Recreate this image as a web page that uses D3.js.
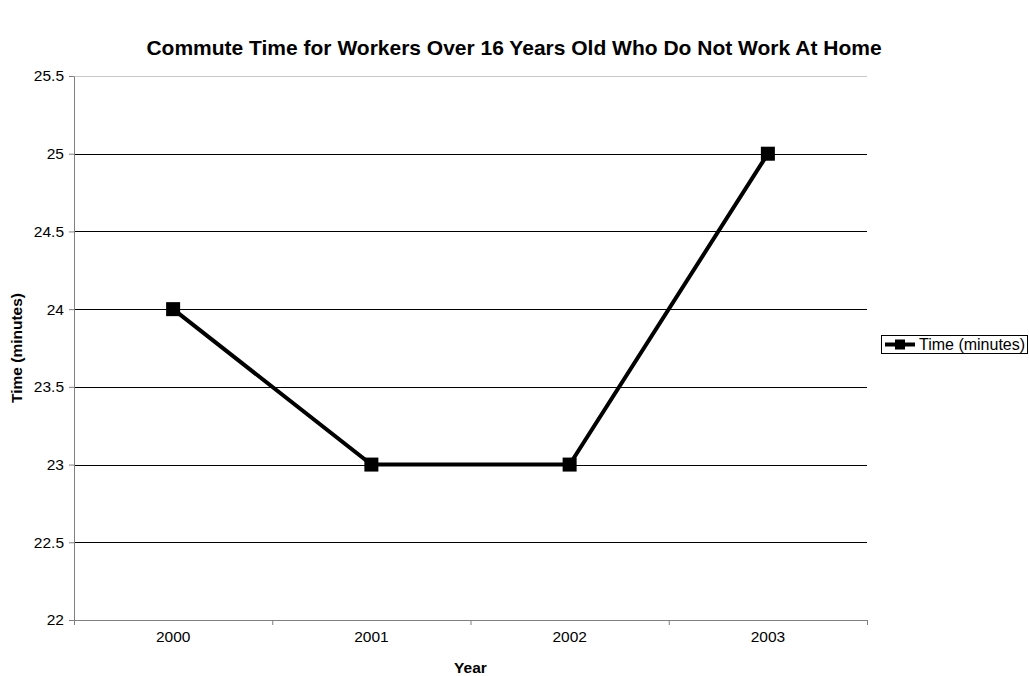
<!DOCTYPE html>
<html>
<head>
<meta charset="utf-8">
<script src="https://cdn.jsdelivr.net/npm/d3@7"></script>
<style>
  body { margin: 0; background: #fff; }
  text { font-family: "Liberation Sans", Arial, sans-serif; }
</style>
</head>
<body>
<div id="chart"></div>
<script>
const years = ['2000', '2001', '2002', '2003'];
const times = [24, 23, 23, 25];
const yTicks = [22, 22.5, 23, 23.5, 24, 24.5, 25, 25.5];
const seriesName = 'Time (minutes)';

const W = 1029, H = 676;
const margin = { top: 76, right: 162, bottom: 56, left: 74 };
const width = W - margin.left - margin.right;
const height = H - margin.top - margin.bottom;
const fontSize = '15.5px';

const svg = d3.select('#chart').append('svg')
  .attr('width', W)
  .attr('height', H);

// title
svg.append('text')
  .attr('x', 514)
  .attr('y', 55)
  .attr('text-anchor', 'middle')
  .style('font-size', '21px')
  .style('font-weight', 'bold')
  .text('Commute Time for Workers Over 16 Years Old Who Do Not Work At Home');

const g = svg.append('g')
  .attr('transform', `translate(${margin.left},${margin.top})`);

const x = d3.scaleBand()
  .domain(years)
  .range([0, width]);

const y = d3.scaleLinear()
  .domain([22, 25.5])
  .range([height, 0]);

// gridlines
g.selectAll('line.grid')
  .data(yTicks.slice(1))
  .enter().append('line')
  .attr('class', 'grid')
  .attr('x1', 0)
  .attr('x2', width)
  .attr('y1', d => Math.round(y(d)) + 0.5)
  .attr('y2', d => Math.round(y(d)) + 0.5)
  .style('stroke', d => d === 25.5 ? '#c8c8c8' : '#000')
  .style('stroke-width', 1);

// y axis
const yAxis = g.append('g')
  .call(d3.axisLeft(y).tickValues(yTicks).tickSize(5).tickSizeOuter(0).tickFormat(d3.format('')));
yAxis.select('.domain').style('stroke', '#808080');
yAxis.selectAll('.tick line').style('stroke', '#808080');
yAxis.selectAll('text')
  .style('font-size', fontSize)
  .style('font-family', '"Liberation Sans", Arial, sans-serif')
  .attr('x', -10);

// x axis
const xAxis = g.append('g')
  .attr('transform', `translate(0,${height})`)
  .call(d3.axisBottom(x).tickSize(0).tickSizeOuter(0));
xAxis.select('.domain').style('stroke', '#808080');
xAxis.selectAll('text')
  .style('font-size', fontSize)
  .style('font-family', '"Liberation Sans", Arial, sans-serif')
  .attr('dy', '1.2em');

// category boundary ticks
g.selectAll('line.xtick')
  .data(d3.range(years.length + 1))
  .enter().append('line')
  .attr('class', 'xtick')
  .attr('x1', i => i * x.step() + 0.5)
  .attr('x2', i => i * x.step() + 0.5)
  .attr('y1', height)
  .attr('y2', height + 5)
  .style('stroke', '#808080');

// axis titles
svg.append('text')
  .attr('x', margin.left + width / 2)
  .attr('y', 673)
  .attr('text-anchor', 'middle')
  .style('font-size', fontSize)
  .style('font-weight', 'bold')
  .text('Year');

svg.append('text')
  .attr('transform', `translate(22,${margin.top + height / 2}) rotate(-90)`)
  .attr('text-anchor', 'middle')
  .style('font-size', fontSize)
  .style('font-weight', 'bold')
  .text('Time (minutes)');

// line
const line = d3.line()
  .x((d, i) => x(years[i]) + x.bandwidth() / 2)
  .y(d => y(d));

g.append('path')
  .datum(times)
  .attr('d', line)
  .style('fill', 'none')
  .style('stroke', '#000')
  .style('stroke-width', 4)
  .style('stroke-linejoin', 'miter');

const ms = 14;
g.selectAll('rect.marker')
  .data(times)
  .enter().append('rect')
  .attr('class', 'marker')
  .attr('x', (d, i) => x(years[i]) + x.bandwidth() / 2 - ms / 2)
  .attr('y', d => y(d) - ms / 2)
  .attr('width', ms)
  .attr('height', ms)
  .style('fill', '#000');

// legend
const lg = svg.append('g').attr('transform', 'translate(881,335)');
lg.append('rect')
  .attr('x', 0.5)
  .attr('y', 0.5)
  .attr('width', 146)
  .attr('height', 18)
  .style('fill', '#fff')
  .style('stroke', '#000');
lg.append('line')
  .attr('x1', 4).attr('x2', 34)
  .attr('y1', 9.5).attr('y2', 9.5)
  .style('stroke', '#000')
  .style('stroke-width', 4);
lg.append('rect')
  .attr('x', 14).attr('y', 4.5)
  .attr('width', 10).attr('height', 10)
  .style('fill', '#000');
lg.append('text')
  .attr('x', 38)
  .attr('y', 15)
  .style('font-size', '16px')
  .text(seriesName);
</script>
</body>
</html>
